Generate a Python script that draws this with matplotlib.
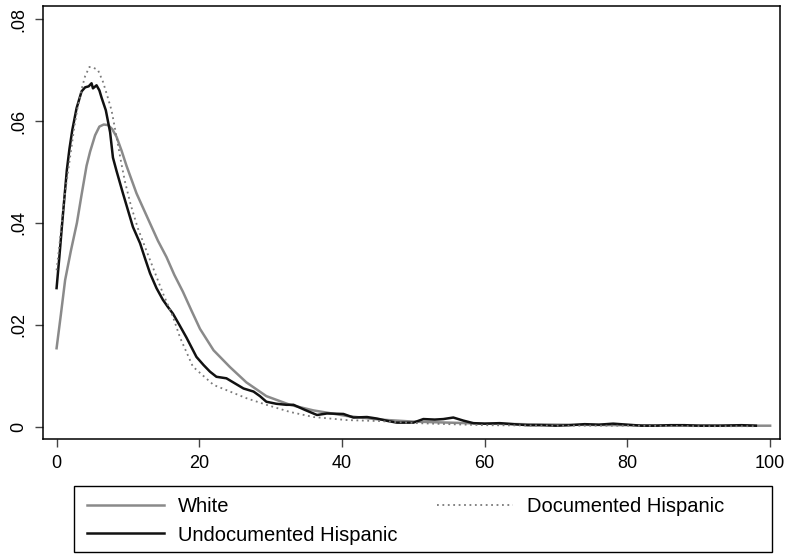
import matplotlib as mpl
mpl.use('Agg')
import matplotlib.pyplot as plt
from matplotlib.patches import Rectangle

plt.rcParams['font.family'] = ['Liberation Sans', 'DejaVu Sans']

# ---- data (kernel densities) ----
white_x = [0, 0.6, 1.2, 2.0, 2.85, 3.5, 4.2, 4.7, 5.4, 6.0, 6.6, 7.2, 7.8,
           8.4, 9.1, 9.8, 10.5, 11.2, 12.1, 13.1, 14.2, 15.4, 16.5, 17.7,
           18.9, 20.1, 22.0, 24.3, 26.6, 29.4, 32.7, 36.0, 40.7, 45.3, 50,
           55, 60, 65, 70, 80, 90, 100]
white_y = [0.0154, 0.0220, 0.0288, 0.0345, 0.0400, 0.0455, 0.0512, 0.0540,
           0.0572, 0.0589, 0.0593, 0.0592, 0.0584, 0.0569, 0.0542, 0.0512,
           0.0485, 0.0458, 0.0430, 0.0399, 0.0365, 0.0333, 0.0298, 0.0265,
           0.0228, 0.0192, 0.0150, 0.0117, 0.0087, 0.0060, 0.0043, 0.0032,
           0.0021, 0.0014, 0.0010, 0.0008, 0.0006, 0.0005, 0.0004, 0.0003,
           0.0002, 0.0002]

doc_x = [0, 0.5, 1.0, 1.5, 2.0, 2.5, 3.0, 3.5, 4.0, 4.6, 5.1, 5.8, 6.5, 7.2,
         7.7, 8.4, 9.1, 9.6, 10.4, 11.4, 13.1, 14.9, 16.3, 17.3, 19.1, 22.0,
         24.3, 26.6, 29.4, 32.7, 36.0, 40.7, 45.3, 50.5, 55, 60, 70, 80, 90,
         98]
doc_y = [0.0307, 0.037, 0.044, 0.049, 0.054, 0.059, 0.0630, 0.0662, 0.0688,
         0.0706, 0.0705, 0.0700, 0.0677, 0.0645, 0.0621, 0.0569, 0.0515,
         0.0480, 0.0435, 0.0389, 0.0327, 0.0262, 0.0216, 0.0175, 0.0118,
         0.0082, 0.0069, 0.0056, 0.0043, 0.0029, 0.0019, 0.0013, 0.0011,
         0.0007, 0.0005, 0.0003, 0.0002, 0.0002, 0.0001, 0.0001]

undoc_x = [0, 0.4, 0.74, 1.1, 1.44, 1.8, 2.2, 2.8, 3.5, 4.0, 4.5, 4.9, 5.1,
           5.6, 6.0, 6.3, 6.9, 7.5, 7.9, 8.4, 9.3, 10.0, 10.7, 11.7, 12.4,
           13.1, 14.0, 14.9, 15.6, 16.3, 17.2, 18.2, 19.6, 20.6, 21.5, 22.4,
           23.8, 25.0, 26.2, 27.6, 28.5, 29.4, 30.8, 32.2, 33.2, 34.8, 36.5,
           37.9, 40.2, 41.6, 43.5, 44.9, 46.5, 47.7, 50.0, 51.4, 53.0, 54.2,
           55.6, 57.0, 58.4, 60.0, 62.1, 64, 66, 68, 70, 72, 74, 76, 78, 80,
           82, 84, 86, 88, 90, 93, 96, 98]
undoc_y = [0.0272, 0.0335, 0.0392, 0.0450, 0.0504, 0.0545, 0.0582, 0.0625,
           0.0658, 0.0666, 0.0668, 0.0674, 0.0664, 0.0670, 0.0660, 0.0646,
           0.0621, 0.0578, 0.0528, 0.0502, 0.0458, 0.0425, 0.0392, 0.0360,
           0.0330, 0.0301, 0.0272, 0.0249, 0.0235, 0.0222, 0.0200, 0.0175,
           0.0137, 0.0121, 0.0108, 0.0098, 0.0095, 0.0085, 0.0075, 0.0069,
           0.0060, 0.0049, 0.0045, 0.0043, 0.0043, 0.0033, 0.0023, 0.0026,
           0.0025, 0.0018, 0.0019, 0.0016, 0.0011, 0.0008, 0.0008, 0.0015,
           0.0014, 0.0015, 0.0018, 0.0012, 0.0007, 0.0006, 0.0007, 0.0005,
           0.0003, 0.0003, 0.0002, 0.0003, 0.0005, 0.0004, 0.0006, 0.0004,
           0.0002, 0.0002, 0.0003, 0.0003, 0.0002, 0.0002, 0.0003, 0.0002]

xticks = [0, 20, 40, 60, 80, 100]
yticks = [0, 0.02, 0.04, 0.06, 0.08]
ytick_labels = ['0', '.02', '.04', '.06', '.08']

fig = plt.figure(figsize=(7.88, 5.56), dpi=100)
ax = fig.add_axes([0.0546, 0.2099, 0.9354, 0.7801])

l_white, = ax.plot(white_x, white_y, color='#8a8a8a', lw=1.8, label='White')
l_undoc, = ax.plot(undoc_x, undoc_y, color='#111111', lw=1.8,
                   label='Undocumented Hispanic')
l_doc, = ax.plot(doc_x, doc_y, color='#7a7a7a', lw=1.3, ls=(0, (1, 2)),
                 label='Documented Hispanic')

ax.set_xlim(-1.9, 101.4)
ax.set_ylim(-0.00247, 0.08265)
ax.set_xticks(xticks)
ax.set_yticks(yticks)
ax.set_yticklabels(ytick_labels, rotation=90, va='center')
ax.tick_params(labelsize=13, length=6, width=1, color='#444444', pad=5)
for s in ax.spines.values():
    s.set_linewidth(1.1)

# legend box (Stata style, wide frame)
fig.patches.append(Rectangle((0.094, 0.007), 0.886, 0.119,
                             transform=fig.transFigure, fill=False,
                             ec='black', lw=1.0))
fig.legend([l_white, l_undoc, l_doc],
           ['White', 'Undocumented Hispanic', 'Documented Hispanic'],
           ncol=2, loc='center left', bbox_to_anchor=(0.093, 0.063),
           frameon=False, fontsize=14.5, handlelength=3.8,
           handletextpad=0.7, columnspacing=1.95, labelspacing=0.45,
           borderpad=0.2)

fig.savefig('out.png', dpi=100)
